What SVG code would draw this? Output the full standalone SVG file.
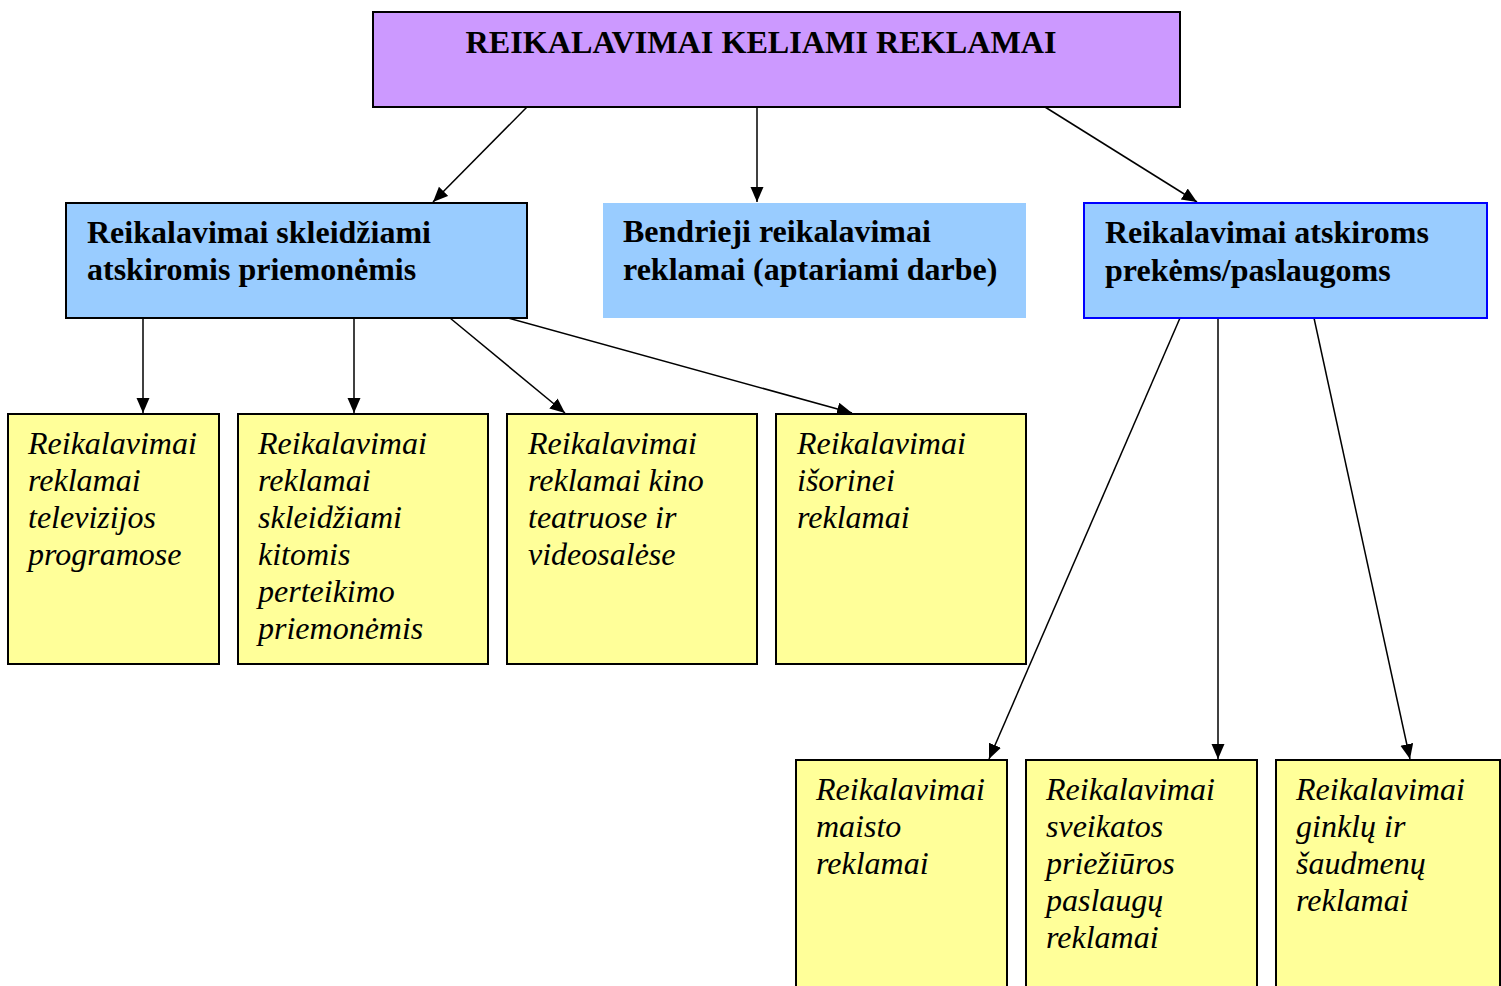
<svg xmlns="http://www.w3.org/2000/svg" width="1501" height="986" viewBox="0 0 1501 986">
<style>
.top{fill:#CC99FF;stroke:#000;stroke-width:2}
.mid{fill:#99CCFF;stroke:#000;stroke-width:2}
.yel{fill:#FFFF99;stroke:#000;stroke-width:2}
.tb{font-family:"Liberation Serif","Times New Roman",serif;font-weight:bold;font-size:32px;fill:#000}
.ti{font-family:"Liberation Serif","Times New Roman",serif;font-style:italic;font-size:32px;fill:#000}
.conn line{stroke:#000;stroke-width:1.5;marker-end:url(#arr)}
</style>
<defs>
<marker id="arr" markerUnits="userSpaceOnUse" markerWidth="16" markerHeight="14" refX="15" refY="6.5" orient="auto">
<path d="M0,0 L15,6.5 L0,13 Z" fill="#000"/>
</marker>
</defs>
<rect width="1501" height="986" fill="#fff"/>
<g id="connectors" class="conn">
<line x1="527" y1="107" x2="433" y2="202"/>
<line x1="757" y1="107" x2="757" y2="202"/>
<line x1="1045" y1="107" x2="1197" y2="202"/>
<line x1="143" y1="318" x2="143" y2="413"/>
<line x1="354" y1="318" x2="354" y2="413"/>
<line x1="450" y1="318" x2="565" y2="413"/>
<line x1="508" y1="318" x2="852" y2="413"/>
<line x1="1180" y1="318" x2="989" y2="759"/>
<line x1="1218" y1="318" x2="1218" y2="759"/>
<line x1="1314" y1="318" x2="1410" y2="759"/>
</g>
<g id="n-top">
<rect class="top" x="373" y="12" width="807" height="95"/>
<text class="tb" x="761" y="53" text-anchor="middle" textLength="591" lengthAdjust="spacingAndGlyphs">REIKALAVIMAI KELIAMI REKLAMAI</text>
</g>
<g id="n-media">
<rect class="mid" x="66" y="203" width="461" height="115"/>
<text class="tb" x="87" y="243">Reikalavimai skleidžiami</text>
<text class="tb" x="87" y="280">atskiromis priemonėmis</text>
</g>
<g id="n-general">
<rect x="603" y="203" width="423" height="115" fill="#99CCFF"/>
<text class="tb" x="623" y="242">Bendrieji reikalavimai</text>
<text class="tb" x="623" y="280">reklamai (aptariami darbe)</text>
</g>
<g id="n-goods">
<rect x="1084" y="203" width="403" height="115" fill="#99CCFF" stroke="#0000FF" stroke-width="2"/>
<text class="tb" x="1105" y="243">Reikalavimai atskiroms</text>
<text class="tb" x="1105" y="281">prekėms/paslaugoms</text>
</g>
<g id="n-tv">
<rect class="yel" x="8" y="414" width="211" height="250"/>
<text class="ti" x="28" y="454">Reikalavimai</text>
<text class="ti" x="28" y="491">reklamai</text>
<text class="ti" x="28" y="528">televizijos</text>
<text class="ti" x="28" y="565">programose</text>
</g>
<g id="n-other">
<rect class="yel" x="238" y="414" width="250" height="250"/>
<text class="ti" x="258" y="454">Reikalavimai</text>
<text class="ti" x="258" y="491">reklamai</text>
<text class="ti" x="258" y="528">skleidžiami</text>
<text class="ti" x="258" y="565">kitomis</text>
<text class="ti" x="258" y="602">perteikimo</text>
<text class="ti" x="258" y="639">priemonėmis</text>
</g>
<g id="n-cinema">
<rect class="yel" x="507" y="414" width="250" height="250"/>
<text class="ti" x="528" y="454">Reikalavimai</text>
<text class="ti" x="528" y="491">reklamai kino</text>
<text class="ti" x="528" y="528">teatruose ir</text>
<text class="ti" x="528" y="565">videosalėse</text>
</g>
<g id="n-outdoor">
<rect class="yel" x="776" y="414" width="250" height="250"/>
<text class="ti" x="797" y="454">Reikalavimai</text>
<text class="ti" x="797" y="491">išorinei</text>
<text class="ti" x="797" y="528">reklamai</text>
</g>
<g id="n-food">
<rect class="yel" x="796" y="760" width="211" height="240"/>
<text class="ti" x="816" y="800">Reikalavimai</text>
<text class="ti" x="816" y="837">maisto</text>
<text class="ti" x="816" y="874">reklamai</text>
</g>
<g id="n-health">
<rect class="yel" x="1026" y="760" width="231" height="240"/>
<text class="ti" x="1046" y="800">Reikalavimai</text>
<text class="ti" x="1046" y="837">sveikatos</text>
<text class="ti" x="1046" y="874">priežiūros</text>
<text class="ti" x="1046" y="911">paslaugų</text>
<text class="ti" x="1046" y="948">reklamai</text>
</g>
<g id="n-weapons">
<rect class="yel" x="1276" y="760" width="224" height="240"/>
<text class="ti" x="1296" y="800">Reikalavimai</text>
<text class="ti" x="1296" y="837">ginklų ir</text>
<text class="ti" x="1296" y="874">šaudmenų</text>
<text class="ti" x="1296" y="911">reklamai</text>
</g>
</svg>
